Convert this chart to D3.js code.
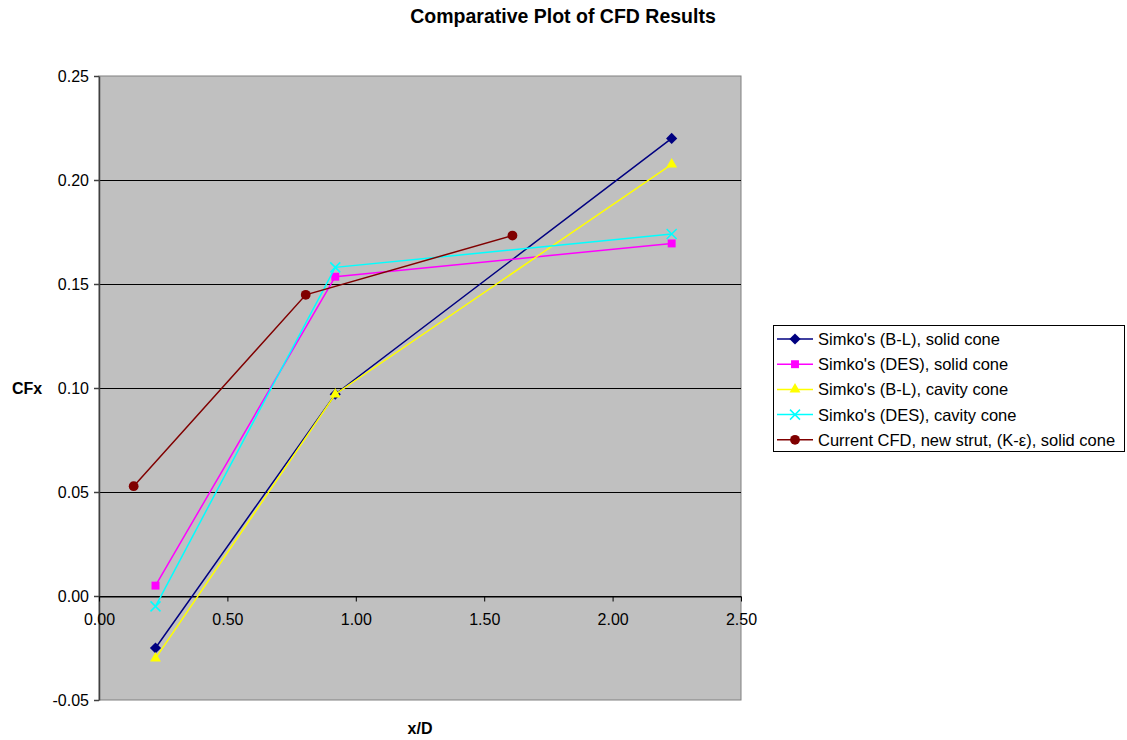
<!DOCTYPE html>
<html>
<head>
<meta charset="utf-8">
<script src="https://cdn.jsdelivr.net/npm/d3@7"></script>
<style>
  body { margin: 0; background: #fff; }
  text { font-family: "Liberation Sans", Arial, sans-serif; }
</style>
</head>
<body>
<div id="chart"></div>
<script>
// chart data
var seriesNames = ["Simko's (B-L), solid cone", "Simko's (DES), solid cone",
                   "Simko's (B-L), cavity cone", "Simko's (DES), cavity cone",
                   "Current CFD, new strut, (K-\u03b5), solid cone"];
var seriesColors = ["#000080", "#FF00FF", "#FFFF00", "#00FFFF", "#800000"];
var seriesSymbols = ["diamond", "square", "triangle", "cross", "circle"];

var xSimko = [0.22, 0.92, 2.23];
var xCurrent = [0.135, 0.805, 1.61];

var blSolid = [-0.025, 0.097, 0.220];
var desSolid = [0.005, 0.1535, 0.1695];
var blCavity = [-0.030, 0.097, 0.2075];
var desCavity = [-0.005, 0.158, 0.174];
var currentCfd = [0.0528, 0.1448, 0.1733];

var xTicks = [0, 0.5, 1.0, 1.5, 2.0, 2.5];
var yTicks = [-0.05, 0, 0.05, 0.10, 0.15, 0.20, 0.25];

var W = 1127, H = 740;
var plot = {left: 99, right: 741, top: 76, bottom: 700};

var svg = d3.select("#chart").append("svg")
  .attr("width", W).attr("height", H);

var x = d3.scaleLinear().domain([0, 2.5]).range([plot.left, plot.right]);
var y = d3.scaleLinear().domain([-0.05, 0.25]).range([plot.bottom, plot.top]);

// excel style numbers, plain hyphen for minus
var fmt = function(d) { return d3.format(".2f")(d).replace("\u2212", "-"); };

// plot background
svg.append("rect")
  .attr("x", plot.left).attr("y", plot.top)
  .attr("width", plot.right - plot.left).attr("height", plot.bottom - plot.top)
  .attr("fill", "#C0C0C0")
  .attr("stroke", "#808080").attr("stroke-width", 1);

// gridlines
svg.append("g").selectAll("line")
  .data(yTicks.filter(function(d) { return d > -0.05 && d < 0.25; }))
  .enter().append("line")
  .attr("x1", plot.left).attr("x2", plot.right)
  .attr("y1", function(d) { return Math.round(y(d)) + 0.5; })
  .attr("y2", function(d) { return Math.round(y(d)) + 0.5; })
  .attr("stroke", "#000").attr("stroke-width", 1);

// y axis
var yAxis = d3.axisLeft(y).tickValues(yTicks).tickFormat(fmt)
  .tickSizeInner(5).tickSizeOuter(0).tickPadding(5);
var gy = svg.append("g")
  .attr("transform", "translate(" + plot.left + ",0)")
  .call(yAxis);
gy.select(".domain").attr("stroke", "#404040").attr("stroke-width", 1.5);
gy.selectAll(".tick line").attr("stroke", "#404040").attr("stroke-width", 1.5);
gy.selectAll("text").style("font-size", "16px").attr("fill", "#000");

// x axis crosses at y = 0
var xAxis = d3.axisBottom(x).tickValues(xTicks).tickFormat(fmt)
  .tickSizeInner(5).tickSizeOuter(0).tickPadding(12);
var gx = svg.append("g")
  .attr("transform", "translate(0," + (Math.round(y(0)) + 0.5) + ")")
  .call(xAxis);
gx.select(".domain").attr("stroke", "#000").attr("stroke-width", 1);
gx.selectAll(".tick line").attr("stroke", "#000").attr("stroke-width", 1);
gx.selectAll("text").style("font-size", "16px").attr("fill", "#000");

// titles
svg.append("text").attr("x", 563).attr("y", 23).attr("text-anchor", "middle")
  .style("font-size", "19.5px").style("font-weight", "bold").text("Comparative Plot of CFD Results");
svg.append("text").attr("x", 420).attr("y", 734).attr("text-anchor", "middle")
  .style("font-size", "16px").style("font-weight", "bold").text("x/D");
svg.append("text").attr("x", 27).attr("y", 394).attr("text-anchor", "middle")
  .style("font-size", "16px").style("font-weight", "bold").text("CFx");

// series
var series = [
  {xs: xSimko, ys: blSolid},
  {xs: xSimko, ys: desSolid},
  {xs: xSimko, ys: blCavity},
  {xs: xSimko, ys: desCavity},
  {xs: xCurrent, ys: currentCfd}
];

var line = d3.line().x(function(d) { return x(d[0]); }).y(function(d) { return y(d[1]); });

function drawMarker(g, sym, color, cx, cy) {
  if (sym === "cross") {
    g.append("path")
      .attr("d", "M" + (cx - 5) + "," + (cy - 5) + "L" + (cx + 5) + "," + (cy + 5) +
                 "M" + (cx - 5) + "," + (cy + 5) + "L" + (cx + 5) + "," + (cy - 5))
      .attr("stroke", color).attr("stroke-width", 1.5).attr("fill", "none");
    return;
  }
  var type = {diamond: d3.symbolDiamond2, square: d3.symbolSquare2,
              triangle: d3.symbolTriangle2, circle: d3.symbolCircle}[sym];
  var size = {diamond: 80, square: 80, triangle: 85, circle: 75}[sym];
  var s = d3.symbol().type(type).size(size);
  g.append("path")
    .attr("d", s())
    .attr("transform", "translate(" + cx + "," + cy + ")")
    .attr("fill", color).attr("stroke", "none");
}

series.forEach(function(s, i) {
  var pts = s.xs.map(function(v, j) { return [v, s.ys[j]]; });
  var g = svg.append("g");
  g.append("path").datum(pts).attr("d", line)
    .attr("fill", "none").attr("stroke", seriesColors[i]).attr("stroke-width", 1.5);
  pts.forEach(function(p) {
    drawMarker(g, seriesSymbols[i], seriesColors[i], x(p[0]), y(p[1]));
  });
});

// legend
var lg = svg.append("g");
lg.append("rect").attr("x", 773.5).attr("y", 325.5).attr("width", 351).attr("height", 126)
  .attr("fill", "#fff").attr("stroke", "#000").attr("stroke-width", 1);
seriesNames.forEach(function(name, i) {
  var ly = 339 + i * 25.2;
  lg.append("line").attr("x1", 777).attr("x2", 813).attr("y1", ly).attr("y2", ly)
    .attr("stroke", seriesColors[i]).attr("stroke-width", 1.5);
  drawMarker(lg, seriesSymbols[i], seriesColors[i], 795, ly);
  lg.append("text").attr("x", 818).attr("y", ly + 6)
    .style("font-size", "16.5px").text(name);
});
</script>
</body>
</html>
